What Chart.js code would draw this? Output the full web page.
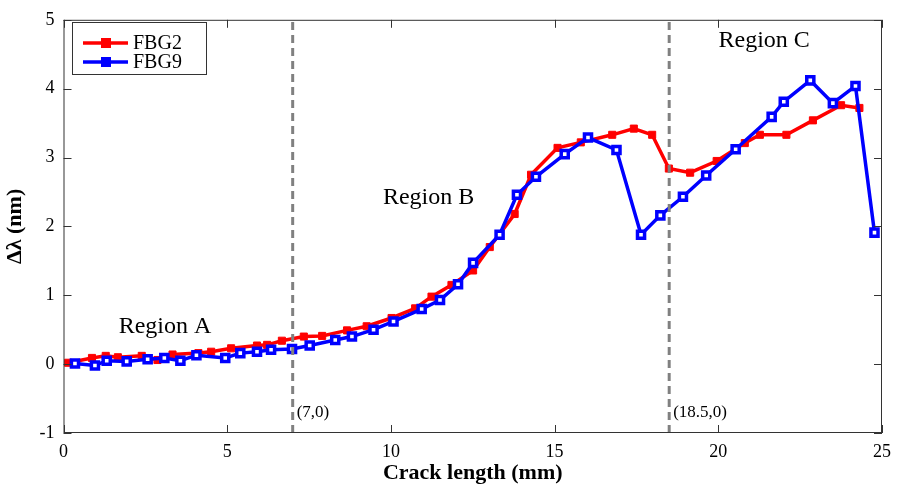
<!DOCTYPE html>
<html>
<head>
<meta charset="utf-8">
<script src="https://cdn.jsdelivr.net/npm/chart.js@4/dist/chart.umd.min.js"></script>
<style>
  html, body { margin: 0; padding: 0; background: #fff; }
  #wrap { width: 899px; height: 492px; position: relative; }
</style>
</head>
<body>
<div id="wrap"><canvas id="chart"></canvas></div>
<script>
// crack length (mm) and wavelength shift (nm)
const crackFBG2 = [0.14, 0.87, 1.29, 1.66, 2.39, 2.87, 3.33, 4.12, 4.51, 5.12, 5.91, 6.22, 6.67, 7.34,
  7.90, 8.66, 9.26, 10.02, 10.74, 11.24, 11.85, 12.51, 13.02, 13.78, 14.28, 15.09, 15.80, 16.76,
  17.42, 17.98, 18.49, 19.14, 19.95, 20.81, 21.27, 22.08, 22.89, 23.75, 24.31];
const shiftFBG2 = [0.02, 0.09, 0.12, 0.10, 0.12, 0.06, 0.14, 0.16, 0.18, 0.23, 0.27, 0.28, 0.34, 0.40,
  0.41, 0.49, 0.55, 0.67, 0.81, 0.98, 1.15, 1.36, 1.70, 2.18, 2.75, 3.14, 3.22, 3.33,
  3.42, 3.33, 2.84, 2.78, 2.95, 3.21, 3.33, 3.33, 3.54, 3.76, 3.72];

const crackFBG9 = [0.35, 0.96, 1.32, 1.93, 2.57, 3.08, 3.57, 4.06, 4.94, 5.40, 5.91, 6.34, 6.98, 7.52,
  8.30, 8.81, 9.47, 10.08, 10.94, 11.50, 12.05, 12.51, 13.32, 13.85, 14.43, 15.31, 16.02, 16.89,
  17.64, 18.23, 18.92, 19.63, 20.53, 21.63, 22.00, 22.81, 23.50, 24.19, 24.77];
const shiftFBG9 = [0.01, -0.02, 0.05, 0.04, 0.07, 0.09, 0.05, 0.13, 0.09, 0.16, 0.18, 0.21, 0.22, 0.27,
  0.35, 0.40, 0.50, 0.62, 0.80, 0.93, 1.16, 1.47, 1.88, 2.46, 2.72, 3.05, 3.29, 3.11,
  1.88, 2.16, 2.43, 2.74, 3.12, 3.59, 3.81, 4.12, 3.79, 4.04, 1.91];

const boundaryX = [7, 18.5];
const boundaryLabels = ['(7,0)', '(18.5,0)'];
const regionNames = ['Region A', 'Region B', 'Region C'];
const regionX = [3.1, 11.15, 21.4];
const regionY = [0.54, 2.42, 4.7];

const xTicks = [0, 5, 10, 15, 20, 25];
const yTicks = [-1, 0, 1, 2, 3, 4, 5];

const serif = '"Liberation Serif", "DejaVu Serif", serif';

const toPoints = (xs, ys) => xs.map((x, i) => ({ x: x, y: ys[i] }));

const datasets = [
  {
    label: 'FBG2',
    data: toPoints(crackFBG2, shiftFBG2),
    borderColor: '#ff0000',
    backgroundColor: '#ff0000',
    borderWidth: 3.5,
    pointStyle: 'rect',
    pointRadius: 5,
    pointBorderWidth: 1,
    showLine: true,
    order: 2
  },
  {
    label: 'FBG9',
    data: toPoints(crackFBG9, shiftFBG9),
    borderColor: '#0000ff',
    backgroundColor: '#ffffff',
    borderWidth: 3.5,
    pointStyle: 'rect',
    pointRadius: 5,
    pointBorderWidth: 3.5,
    showLine: true,
    order: 1
  }
];

// dashed boundaries between regions
boundaryX.forEach(bx => {
  datasets.push({
    label: '',
    data: [{ x: bx, y: -1 }, { x: bx, y: 5 }],
    borderColor: '#808080',
    borderWidth: 3,
    borderDash: [8, 5],
    pointRadius: 0,
    showLine: true,
    order: 0
  });
});

// frame, inward ticks, text labels and legend
const decorPlugin = {
  id: 'decor',
  afterDatasetsDraw(chart) {
    const ctx = chart.ctx;
    const a = chart.chartArea;
    const xs = chart.scales.x;
    const ys = chart.scales.y;
    ctx.save();
    ctx.strokeStyle = '#333';
    ctx.lineWidth = 1;
    ctx.strokeRect(a.left + 0.5, a.top + 0.5, a.right - a.left - 1, a.bottom - a.top - 1);
    ctx.beginPath();
    xTicks.forEach(v => {
      const px = Math.round(xs.getPixelForValue(v)) + 0.5;
      ctx.moveTo(px, a.bottom); ctx.lineTo(px, a.bottom - 8);
      ctx.moveTo(px, a.top); ctx.lineTo(px, a.top + 8);
    });
    yTicks.forEach(v => {
      const py = Math.round(ys.getPixelForValue(v)) + 0.5;
      ctx.moveTo(a.left, py); ctx.lineTo(a.left + 8, py);
      ctx.moveTo(a.right, py); ctx.lineTo(a.right - 8, py);
    });
    ctx.stroke();

    ctx.fillStyle = '#000';
    ctx.font = '24px ' + serif;
    ctx.textAlign = 'center';
    ctx.textBaseline = 'middle';
    regionNames.forEach((t, i) => {
      ctx.fillText(t, xs.getPixelForValue(regionX[i]), ys.getPixelForValue(regionY[i]));
    });
    ctx.font = '17px ' + serif;
    ctx.textAlign = 'left';
    boundaryLabels.forEach((t, i) => {
      ctx.fillText(t, xs.getPixelForValue(boundaryX[i]) + 4, ys.getPixelForValue(-0.7));
    });

    // legend box
    const lx = 72, ly = 22, lw = 134, lh = 52;
    ctx.fillStyle = '#fff';
    ctx.fillRect(lx, ly, lw, lh);
    ctx.strokeStyle = '#333';
    ctx.lineWidth = 1;
    ctx.strokeRect(lx + 0.5, ly + 0.5, lw, lh);
    chart.data.datasets.slice(0, 2).forEach((ds, i) => {
      const yy = ly + 21 + i * 19;
      ctx.strokeStyle = ds.borderColor;
      ctx.lineWidth = 3.5;
      ctx.beginPath();
      ctx.moveTo(lx + 11, yy); ctx.lineTo(lx + 56, yy);
      ctx.stroke();
      ctx.fillStyle = ds.borderColor;
      ctx.fillRect(lx + 29, yy - 5, 10, 10);
      ctx.fillStyle = '#000';
      ctx.font = '20px ' + serif;
      ctx.textAlign = 'left';
      ctx.fillText(ds.label, lx + 61, yy + 1);
    });
    ctx.restore();
  }
};

new Chart(document.getElementById('chart'), {
  type: 'scatter',
  data: { datasets: datasets },
  options: {
    responsive: true,
    maintainAspectRatio: false,
    animation: false,
    layout: { padding: { top: 16, right: 10, left: 0, bottom: 0 } },
    plugins: {
      legend: { display: false },
      tooltip: { enabled: false }
    },
    scales: {
      x: {
        type: 'linear',
        min: 0,
        max: 25,
        afterFit: s => { s.height = 59; },
        afterBuildTicks: s => { s.ticks = xTicks.map(v => ({ value: v })); },
        grid: { display: false, drawTicks: false },
        border: { display: false },
        ticks: { color: '#000', padding: 8, font: { family: serif, size: 18 } },
        title: {
          display: true,
          text: 'Crack length (mm)',
          color: '#000',
          padding: { top: 0, bottom: 5 },
          font: { family: serif, size: 22, weight: 'bold' }
        }
      },
      y: {
        type: 'linear',
        min: -1,
        max: 5,
        afterFit: s => { s.width = 63.5; },
        afterBuildTicks: s => { s.ticks = yTicks.map(v => ({ value: v })); },
        grid: { display: false, drawTicks: false },
        border: { display: false },
        ticks: { color: '#000', padding: 9, font: { family: serif, size: 18 } },
        title: {
          display: true,
          text: 'Δλ (nm)',
          color: '#000',
          padding: { top: 2, bottom: 0 },
          font: { family: serif, size: 22, weight: 'bold' }
        }
      }
    }
  },
  plugins: [decorPlugin]
});
</script>
</body>
</html>
